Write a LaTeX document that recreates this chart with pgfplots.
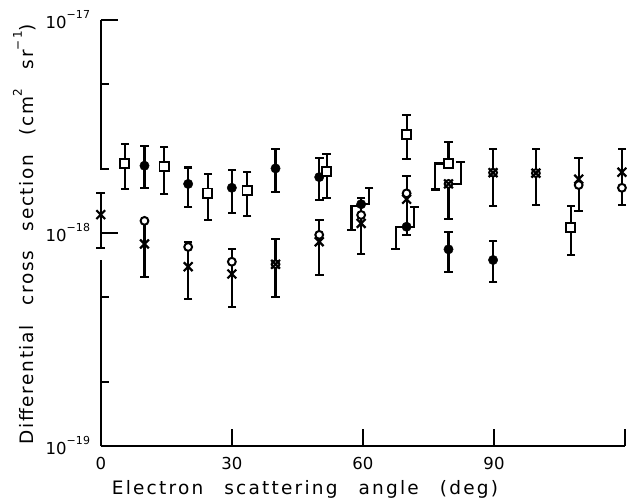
\documentclass[border=0pt]{standalone}
\usepackage{pgfplots}
\pgfplotsset{compat=1.18}
\usepackage{fontspec}
\setmainfont{DejaVu Sans}[LetterSpace=12, WordSpace=2.6]

% cross sections are given in units of 1e-18 cm^2 sr^-1
\newcommand{\upper}[1]{\raisebox{0.6em}{\fontsize{12}{14}\selectfont #1}}
\newcommand{\tickup}[1]{\raisebox{0.62em}{\fontsize{11}{13}\selectfont #1}}
\begin{document}
\fontsize{18.5}{22}\selectfont
\begin{tikzpicture}
\begin{axis}[
  scale only axis, width=524.2pt, height=426pt,
  xmin=0, xmax=120, ymode=log, ymin=0.1, ymax=10,
  axis x line=bottom, axis y line=left,
  axis line style={-, line width=1.8pt},
  y axis line style={draw=none},
  tick align=inside,
  xtick={0,30,60,90,120}, xticklabels={0,30,60,90,{}},
  ytick={0.1,1,10},
  yticklabels={10\tickup{−19},10\tickup{−18},10\tickup{−17}},
  minor ytick={0.2,0.5,2,5},
  major tick length=17pt, minor tick length=8pt,
  tick style={line width=1.8pt, black},
  ticklabel style={font=\fontsize{16.5}{19}\selectfont\addfontfeatures{LetterSpace=1}},
  xticklabel style={anchor=north, inner sep=0pt, yshift=-11pt},
  yticklabel style={anchor=base east, inner sep=0pt, xshift=-10.5pt, yshift=-8.7pt},
  clip=false,
  xlabel={Electron scattering angle (deg)},
  ylabel={\addfontfeatures{LetterSpace=9}Differential cross section (cm\upper{2} sr\upper{−1})},
  every axis x label/.style={at={(axis description cs:0.3895,-0.115)}, anchor=base},
  every axis y label/.style={at={(axis description cs:-0.1293,0.497)}, anchor=base, rotate=90},
  bar/.style={black, line width=2.1pt, mark=-, mark size=4.3pt, mark options={solid, line width=2.1pt}, unbounded coords=jump},
]

% left axis line, broken around the point at 0 deg
\addplot[black, line width=1.8pt] coordinates {(0,0.1) (0,0.747)};
\addplot[black, line width=1.8pt] coordinates {(0,1.977) (0,10)};

% error bars with caps at both ends
\addplot[bar] coordinates {
 (0,0.853) (0,1.54) (0,nan)
 (5.5,1.61) (5.5,2.62) (5.5,nan)
 (10,1.63) (10,2.56) (10,nan)
 (10,0.62) (10,1.14) (10,nan)
 (14.5,1.52) (14.5,2.53) (14.5,nan)
 (20,1.33) (20,2.03) (20,nan)
 (20,0.492) (20,0.91) (20,nan)
 (24.5,1.15) (24.5,1.89) (24.5,nan)
 (30,1.24) (30,1.97) (30,nan)
 (30,0.451) (30,0.84) (30,nan)
 (33.5,1.205) (33.5,1.93) (33.5,nan)
 (40,1.56) (40,2.48) (40,nan)
 (40,0.499) (40,0.937) (40,nan)
 (50,1.43) (50,2.24) (50,nan)
 (51.7,1.46) (51.7,2.36) (51.7,nan)
 (50,0.635) (50,1.15) (50,nan)
 (59.6,0.797) (59.6,1.455) (59.6,nan)
 (70,2.22) (70,3.57) (70,nan)
 (70,0.975) (70,1.85) (70,nan)
 (79.6,0.654) (79.6,1.007) (79.6,nan)
 (89.8,1.34) (89.8,2.48) (89.8,nan)
 (89.8,0.587) (89.8,0.917) (89.8,nan)
 (99.6,1.36) (99.6,2.48) (99.6,nan)
 (107.6,0.788) (107.6,1.34) (107.6,nan)
 (109.4,1.27) (109.4,2.25) (109.4,nan)
 (119.3,1.36) (119.3,2.48)
};

% offset (split) error bars where points crowd together
\addplot[black, line width=2.1pt, unbounded coords=jump] coordinates {
 (59.6,1.365) (61.4,1.365) (61.4,1.63) (61.4,nan)
 (59.6,1.34) (57.4,1.34) (57.4,1.03) (57.4,nan)
 (70,1.07) (67.5,1.07) (67.5,0.84) (67.5,nan)
 (70,1.07) (71.8,1.07) (71.8,1.32) (71.8,nan)
 (79.6,2.12) (76.6,2.12) (76.6,1.60) (76.6,nan)
 (79.6,2.12) (79.6,2.67) (79.6,nan)
 (79.6,1.70) (82.4,1.70) (82.4,2.15) (82.4,nan)
 (79.6,1.70) (79.6,1.16)
};
\addplot[only marks, black, mark=-, mark size=4.3pt, mark options={line width=2.1pt}] coordinates {
 (61.4,1.63) (57.4,1.03) (67.5,0.84) (71.8,1.32) (76.6,1.60) (79.6,2.67) (82.4,2.15) (79.6,1.16)
};

% open circles
\addplot[only marks, mark=*, mark size=3.9pt, mark options={draw=black, fill=white, line width=2pt}] coordinates {
 (10,1.14) (20,0.86) (30,0.733) (40,0.713) (50,0.98) (59.6,1.215) (70,1.535)
 (79.6,1.70) (89.8,1.92) (99.6,1.91) (109.4,1.68) (119.3,1.63)
};
% crosses
\addplot[only marks, mark=x, mark size=6.2pt, mark options={draw=black, line width=2.2pt}] coordinates {
 (0,1.22) (10,0.888) (20,0.695) (30,0.642) (40,0.713) (50,0.91) (59.6,1.11) (70,1.44)
 (79.6,1.70) (89.8,1.92) (99.6,1.91) (109.4,1.79) (119.3,1.93)
};
% filled circles
\addplot[only marks, mark=*, mark size=4.7pt, mark options={draw=black, fill=black}] coordinates {
 (10,2.07) (20,1.70) (30,1.63) (40,2.01) (50,1.83) (59.6,1.365) (70,1.07) (79.6,0.838) (89.8,0.747)
};
% open squares
\addplot[only marks, mark=square*, mark size=4.6pt, mark options={draw=black, fill=white, line width=1.9pt}] coordinates {
 (5.5,2.12) (14.5,2.05) (24.5,1.54) (33.5,1.58) (51.7,1.94) (70,2.91) (79.6,2.12) (107.6,1.06)
};
\end{axis}
\pgfresetboundingbox
\path[use as bounding box] (-100.8pt,-52pt) rectangle (526.2pt,446pt);
\end{tikzpicture}
\end{document}
